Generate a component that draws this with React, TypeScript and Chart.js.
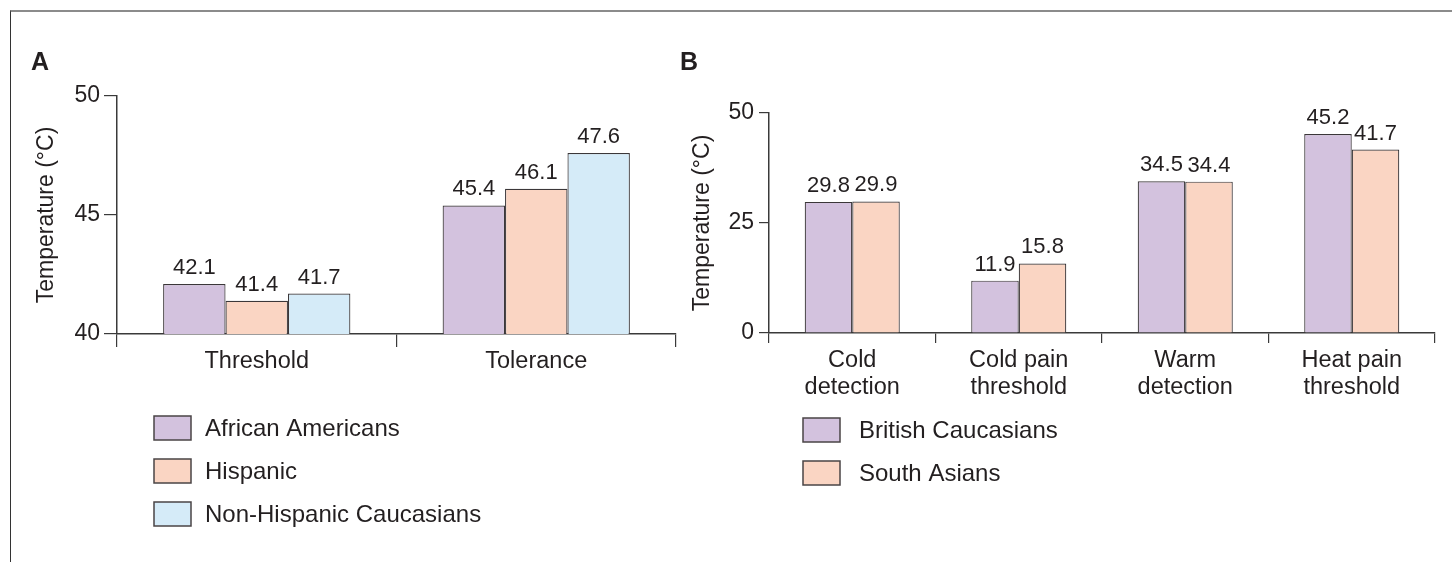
import React, { useEffect, useRef } from 'react';
import { Chart, registerables } from 'chart.js';

Chart.register(...registerables);

// ---------- data ----------
// Panel A: thermal pain threshold / tolerance by ethnic group
const aCategories = ['Threshold', 'Tolerance'];
const aAfricanAmericans = [42.1, 45.4];
const aHispanic = [41.4, 46.1];
const aNonHispanicCaucasians = [41.7, 47.6];
const aTicks = [40, 45, 50];

// Panel B: quantitative sensory testing, two groups
const bCategories = [
  ['Cold', 'detection'],
  ['Cold pain', 'threshold'],
  ['Warm', 'detection'],
  ['Heat pain', 'threshold'],
];
const bBritishCaucasians = [29.8, 11.9, 34.5, 45.2];
const bSouthAsians = [29.9, 15.8, 34.4, 41.7];
const bTicks = [0, 25, 50];

// ---------- styling ----------
const FONT = '"Liberation Sans", Arial, Helvetica, sans-serif';
const INK = '#231f20';
const AXIS = '#3a3a3a';
const BAR_EDGE = '#3b3739';
const PURPLE = '#d3c2de';
const PEACH = '#fad5c3';
const SKY = '#d5ebf8';
const W = 1452;
const H = 562;

const textFont = (size: number, lineHeight = 1.2) => ({ family: FONT, size, lineHeight });

// Value printed above each bar
const valueLabels = {
  id: 'valueLabels',
  afterDatasetsDraw(chart: any) {
    const ctx = chart.ctx;
    ctx.save();
    ctx.font = `22px ${FONT}`;
    ctx.fillStyle = INK;
    ctx.textAlign = 'center';
    ctx.textBaseline = 'alphabetic';
    chart.data.datasets.forEach((ds: any, i: number) => {
      const meta = chart.getDatasetMeta(i);
      meta.data.forEach((bar: any, j: number) => {
        ctx.fillText(Number(ds.data[j]).toFixed(1), bar.x, bar.y - 10);
      });
    });
    ctx.restore();
  },
};

// Stacked legend list below the plot, plus the bold panel letter
const makeDecor = (letter: string, letterX: number, boxX: number, textGap: number, rowY: number[]) => ({
  id: 'panelDecor',
  afterDraw(chart: any) {
    const ctx = chart.ctx;
    ctx.save();
    ctx.font = `bold 25px ${FONT}`;
    ctx.fillStyle = INK;
    ctx.textAlign = 'left';
    ctx.textBaseline = 'alphabetic';
    ctx.fillText(letter, letterX, 70);

    const bw = 37;
    const bh = 24;
    ctx.font = `24px ${FONT}`;
    ctx.textBaseline = 'middle';
    chart.data.datasets.forEach((ds: any, i: number) => {
      const cy = rowY[i];
      ctx.fillStyle = ds.backgroundColor;
      ctx.fillRect(boxX, cy - bh / 2, bw, bh);
      ctx.strokeStyle = '#4a4446';
      ctx.lineWidth = 1.5;
      ctx.strokeRect(boxX, cy - bh / 2, bw, bh);
      ctx.fillStyle = INK;
      ctx.fillText(ds.label, boxX + bw + textGap, cy + 1);
    });
    ctx.restore();
  },
});

const barDataset = (label: string, data: number[], color: string) => ({
  label,
  data,
  backgroundColor: color,
  borderColor: BAR_EDGE,
  borderWidth: 1.2,
  barPercentage: 1,
});

function buildConfigA(): any {
  return {
    type: 'bar',
    data: {
      labels: aCategories,
      datasets: [
        barDataset('African Americans', aAfricanAmericans, PURPLE),
        barDataset('Hispanic', aHispanic, PEACH),
        barDataset('Non-Hispanic Caucasians', aNonHispanicCaucasians, SKY),
      ].map((d) => ({ ...d, categoryPercentage: 0.67 })),
    },
    options: {
      animation: false,
      responsive: false,
      layout: { padding: { left: 0, top: 96, right: 24, bottom: 0 } },
      plugins: { legend: { display: false }, tooltip: { enabled: false }, title: { display: false } },
      scales: {
        x: {
          offset: true,
          grid: { display: true, drawOnChartArea: false, tickLength: 13, color: AXIS, lineWidth: 1.2, offset: true },
          border: { display: true, color: AXIS, width: 1.5 },
          ticks: { font: textFont(23.5), color: INK, padding: 0, maxRotation: 0, autoSkip: false },
          afterFit: (s: any) => {
            s.height = H - 334;
          },
        },
        y: {
          min: 40,
          max: 50,
          afterBuildTicks: (s: any) => {
            s.ticks = aTicks.map((v) => ({ value: v }));
          },
          grid: { display: true, drawOnChartArea: false, tickLength: 13, color: AXIS, lineWidth: 1.2 },
          border: { display: true, color: AXIS, width: 1.5 },
          ticks: { font: textFont(23), color: INK, padding: 4 },
          title: { display: true, text: 'Temperature (°C)', font: textFont(23), color: INK, padding: { top: 33, bottom: 0 } },
          afterFit: (s: any) => {
            s.width = 117;
          },
        },
      },
    },
    plugins: [valueLabels, makeDecor('A', 31, 154, 14, [428, 471, 514])],
  };
}

const B_LEFT = 660;

function buildConfigB(): any {
  return {
    type: 'bar',
    data: {
      labels: bCategories,
      datasets: [
        barDataset('British Caucasians', bBritishCaucasians, PURPLE),
        barDataset('South Asians', bSouthAsians, PEACH),
      ].map((d) => ({ ...d, categoryPercentage: 0.571 })),
    },
    options: {
      animation: false,
      responsive: false,
      layout: { padding: { left: 0, top: 113, right: W - 1435, bottom: 0 } },
      plugins: { legend: { display: false }, tooltip: { enabled: false }, title: { display: false } },
      scales: {
        x: {
          offset: true,
          grid: { display: true, drawOnChartArea: false, tickLength: 10, color: AXIS, lineWidth: 1.2, offset: true },
          border: { display: true, color: AXIS, width: 1.5 },
          ticks: { font: textFont(23.5, 1.14), color: INK, padding: 4, maxRotation: 0, autoSkip: false },
          afterFit: (s: any) => {
            s.height = H - 333;
          },
        },
        y: {
          min: 0,
          max: 50,
          afterBuildTicks: (s: any) => {
            s.ticks = bTicks.map((v) => ({ value: v }));
          },
          grid: { display: true, drawOnChartArea: false, tickLength: 10, color: AXIS, lineWidth: 1.2 },
          border: { display: true, color: AXIS, width: 1.5 },
          ticks: { font: textFont(23), color: INK, padding: 5 },
          title: { display: true, text: 'Temperature (°C)', font: textFont(23), color: INK, padding: { top: 29, bottom: 0 } },
          afterFit: (s: any) => {
            s.width = 769 - B_LEFT;
          },
        },
      },
    },
    plugins: [valueLabels, makeDecor('B', 680 - B_LEFT, 803 - B_LEFT, 19, [430, 473])],
  };
}

function Panel({ left, width, build }: { left: number; width: number; build: () => any }) {
  const ref = useRef<HTMLCanvasElement | null>(null);
  useEffect(() => {
    if (!ref.current) return;
    const chart = new Chart(ref.current, build());
    return () => chart.destroy();
  }, [build]);
  return (
    <canvas
      ref={ref}
      width={width}
      height={H}
      style={{ position: 'absolute', left, top: 0, width, height: H }}
    />
  );
}

export default function App() {
  return (
    <div style={{ position: 'absolute', left: 0, top: 0, width: W, height: H, background: '#fff', overflow: 'hidden' }}>
      <div
        style={{
          position: 'absolute',
          left: 10,
          top: 10,
          right: 0,
          bottom: 0,
          borderTop: '2px solid #8b8b8b',
          borderLeft: '1.5px solid #333',
        }}
      />
      <Panel left={0} width={700} build={buildConfigA} />
      <Panel left={B_LEFT} width={W - B_LEFT} build={buildConfigB} />
    </div>
  );
}
